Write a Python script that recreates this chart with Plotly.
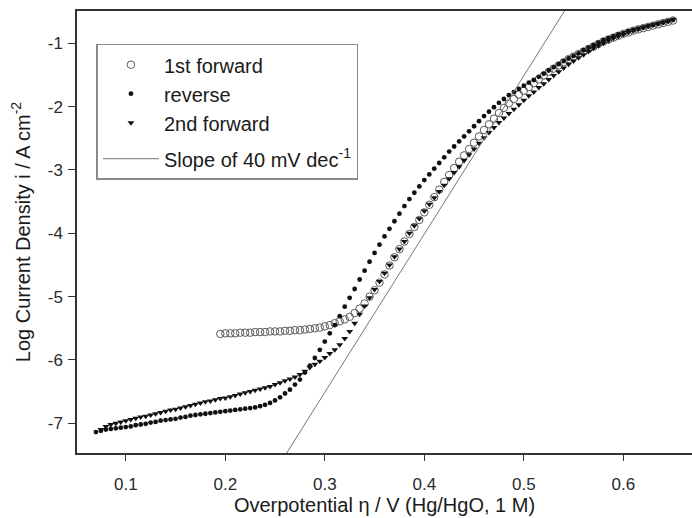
import plotly.graph_objects as go

# Overpotential grid (V vs Hg/HgO, 1 M), shared by all three sweeps
ETA = [
    0.070, 0.075, 0.080, 0.085, 0.090, 0.095, 0.100, 0.105, 0.110, 0.115,
    0.120, 0.125, 0.130, 0.135, 0.140, 0.145, 0.150, 0.155, 0.160, 0.165,
    0.170, 0.175, 0.180, 0.185, 0.190, 0.195, 0.200, 0.205, 0.210, 0.215,
    0.220, 0.225, 0.230, 0.235, 0.240, 0.245, 0.250, 0.255, 0.260, 0.265,
    0.270, 0.275, 0.280, 0.285, 0.290, 0.295, 0.300, 0.305, 0.310, 0.315,
    0.320, 0.325, 0.330, 0.335, 0.340, 0.345, 0.350, 0.355, 0.360, 0.365,
    0.370, 0.375, 0.380, 0.385, 0.390, 0.395, 0.400, 0.405, 0.410, 0.415,
    0.420, 0.425, 0.430, 0.435, 0.440, 0.445, 0.450, 0.455, 0.460, 0.465,
    0.470, 0.475, 0.480, 0.485, 0.490, 0.495, 0.500, 0.505, 0.510, 0.515,
    0.520, 0.525, 0.530, 0.535, 0.540, 0.545, 0.550, 0.555, 0.560, 0.565,
    0.570, 0.575, 0.580, 0.585, 0.590, 0.595, 0.600, 0.605, 0.610, 0.615,
    0.620, 0.625, 0.630, 0.635, 0.640, 0.645, 0.650,
]

# Reverse sweep: log current density at every ETA value (0.070 ... 0.650)
LOG_I_REVERSE = [
    -7.14, -7.12, -7.10, -7.09, -7.08, -7.07, -7.06, -7.05, -7.03, -7.02,
    -7.01, -6.99, -6.98, -6.96, -6.95, -6.94, -6.93, -6.91, -6.90, -6.88,
    -6.87, -6.86, -6.85, -6.84, -6.83, -6.82, -6.81, -6.80, -6.79, -6.78,
    -6.77, -6.76, -6.75, -6.73, -6.71, -6.68, -6.64, -6.59, -6.53, -6.47,
    -6.39, -6.31, -6.20, -6.09, -5.97, -5.84, -5.71, -5.58, -5.45, -5.31,
    -5.16, -5.02, -4.88, -4.73, -4.59, -4.45, -4.31, -4.18, -4.05, -3.93,
    -3.81, -3.69, -3.57, -3.46, -3.36, -3.26, -3.16, -3.07, -2.98, -2.89,
    -2.80, -2.71, -2.63, -2.55, -2.47, -2.39, -2.31, -2.23, -2.15, -2.08,
    -2.01, -1.94, -1.88, -1.82, -1.77, -1.72, -1.67, -1.62, -1.58, -1.53,
    -1.48, -1.43, -1.38, -1.33, -1.28, -1.24, -1.20, -1.16, -1.11, -1.07,
    -1.03, -0.99, -0.95, -0.92, -0.89, -0.86, -0.84, -0.81, -0.79, -0.77,
    -0.75, -0.73, -0.71, -0.69, -0.67, -0.65, -0.63,
]

# Second forward sweep: ETA values 0.075 ... 0.650
LOG_I_SECOND = [
    -7.10, -7.05, -7.02, -7.00, -6.98, -6.96, -6.94, -6.92, -6.90, -6.89,
    -6.87, -6.85, -6.83, -6.81, -6.79, -6.78, -6.76, -6.74, -6.72, -6.70,
    -6.68, -6.66, -6.65, -6.63, -6.61, -6.60, -6.58, -6.56, -6.54, -6.52,
    -6.50, -6.48, -6.46, -6.44, -6.42, -6.39, -6.36, -6.33, -6.30, -6.27,
    -6.23, -6.18, -6.12, -6.07, -6.02, -5.96, -5.90, -5.84, -5.76, -5.66,
    -5.55, -5.42, -5.28, -5.15, -5.02, -4.89, -4.76, -4.63, -4.50, -4.37,
    -4.25, -4.13, -4.00, -3.88, -3.77, -3.65, -3.54, -3.44, -3.34, -3.24,
    -3.14, -3.04, -2.95, -2.85, -2.76, -2.67, -2.58, -2.49, -2.41, -2.33,
    -2.25, -2.18, -2.11, -2.04, -1.97, -1.90, -1.83, -1.77, -1.70, -1.64,
    -1.57, -1.51, -1.45, -1.39, -1.33, -1.28, -1.23, -1.18, -1.13, -1.08,
    -1.04, -1.00, -0.96, -0.92, -0.89, -0.86, -0.83, -0.80, -0.78, -0.75,
    -0.73, -0.71, -0.69, -0.67, -0.65, -0.63,
]

# First forward sweep: ETA values 0.195 ... 0.650
LOG_I_FIRST = [
    -5.59, -5.58, -5.58, -5.58, -5.57, -5.57, -5.57, -5.56, -5.56, -5.56,
    -5.55, -5.55, -5.55, -5.54, -5.54, -5.53, -5.53, -5.52, -5.51, -5.50,
    -5.49, -5.47, -5.45, -5.42, -5.39, -5.36, -5.32, -5.26, -5.19, -5.11,
    -5.00, -4.90, -4.78, -4.65, -4.51, -4.38, -4.25, -4.13, -4.01, -3.90,
    -3.79, -3.67, -3.55, -3.43, -3.31, -3.19, -3.08, -2.97, -2.87, -2.77,
    -2.67, -2.57, -2.47, -2.37, -2.28, -2.19, -2.10, -2.02, -1.95, -1.88,
    -1.81, -1.75, -1.69, -1.63, -1.57, -1.51, -1.45, -1.40, -1.35, -1.30,
    -1.25, -1.21, -1.17, -1.13, -1.09, -1.05, -1.01, -0.97, -0.94, -0.91,
    -0.88, -0.85, -0.83, -0.80, -0.78, -0.76, -0.74, -0.72, -0.70, -0.68,
    -0.66, -0.64,
]

# Tafel reference line: 40 mV per decade through (0.2605 V, -7.5)
TAFEL_SLOPE_V_PER_DEC = 0.040
TAFEL_ANCHOR = (0.2605, -7.5)
TAFEL_ETA = [0.25, 0.56]

X_TICKS = [0.1, 0.2, 0.3, 0.4, 0.5, 0.6]
Y_TICKS = [-7, -6, -5, -4, -3, -2, -1]

eta_first = ETA[len(ETA) - len(LOG_I_FIRST):]
eta_second = ETA[len(ETA) - len(LOG_I_SECOND):]
tafel_y = [TAFEL_ANCHOR[1] + (e - TAFEL_ANCHOR[0]) / TAFEL_SLOPE_V_PER_DEC for e in TAFEL_ETA]

FONT = "Arial, 'Liberation Sans', sans-serif"
INK = "#1a1a1a"

fig = go.Figure()
fig.add_trace(go.Scatter(
    x=eta_first, y=LOG_I_FIRST, mode="markers", name="1st forward",
    legendgroup="data",
    marker=dict(symbol="circle-open", size=7.5, color="#5a5a5a", line=dict(width=1, color="#5a5a5a")),
))
fig.add_trace(go.Scatter(
    x=ETA, y=LOG_I_REVERSE, mode="markers", name="reverse",
    legendgroup="data",
    marker=dict(symbol="circle", size=4.8, color="#111111"),
))
fig.add_trace(go.Scatter(
    x=eta_second, y=LOG_I_SECOND, mode="markers", name="2nd forward",
    legendgroup="data",
    marker=dict(symbol="triangle-down", size=6, color="#111111"),
))
fig.add_trace(go.Scatter(
    x=TAFEL_ETA, y=tafel_y, mode="lines", name="Slope of 40 mV dec<sup>-1</sup>",
    legendgroup="line",
    line=dict(color="#777777", width=1),
))

fig.update_layout(
    width=692, height=518,
    margin=dict(l=77, r=0, t=11, b=65),
    paper_bgcolor="white", plot_bgcolor="white",
    font=dict(family=FONT, size=17, color=INK),
    showlegend=True,
    legend=dict(
        x=0.0316, y=0.926, xanchor="left", yanchor="top",
        bgcolor="white", bordercolor="#8a8a8a", borderwidth=1.5,
        font=dict(family=FONT, size=20, color=INK),
        itemwidth=56, tracegroupgap=7, traceorder="grouped",
    ),
    xaxis=dict(
        range=[0.051, 0.669], tickvals=X_TICKS, ticktext=[f"{v:.1f}" for v in X_TICKS],
        showgrid=False, zeroline=False,
        showline=True, linecolor="#333333", linewidth=1.5, mirror=True,
        ticks="outside", ticklen=6, tickwidth=1.2, tickcolor="#333333",
        ticklabelstandoff=9,
        tickfont=dict(family=FONT, size=17, color="#2a2a2a"),
        title=dict(text="Overpotential \u03b7 / V (Hg/HgO, 1 M)",
                   font=dict(family=FONT, size=20, color=INK), standoff=4),
    ),
    yaxis=dict(
        range=[-7.47, -0.49], tickvals=Y_TICKS, ticktext=[str(v) for v in Y_TICKS],
        showgrid=False, zeroline=False,
        showline=True, linecolor="#333333", linewidth=1.5,
        ticks="outside", ticklen=7, tickwidth=1.2, tickcolor="#333333",
        ticklabelstandoff=2,
        tickfont=dict(family=FONT, size=17, color="#2a2a2a"),
        title=dict(text="Log Current Density i / A cm<sup>-2</sup>",
                   font=dict(family=FONT, size=20, color=INK), standoff=12),
    ),
)

fig.write_html("out.html")
